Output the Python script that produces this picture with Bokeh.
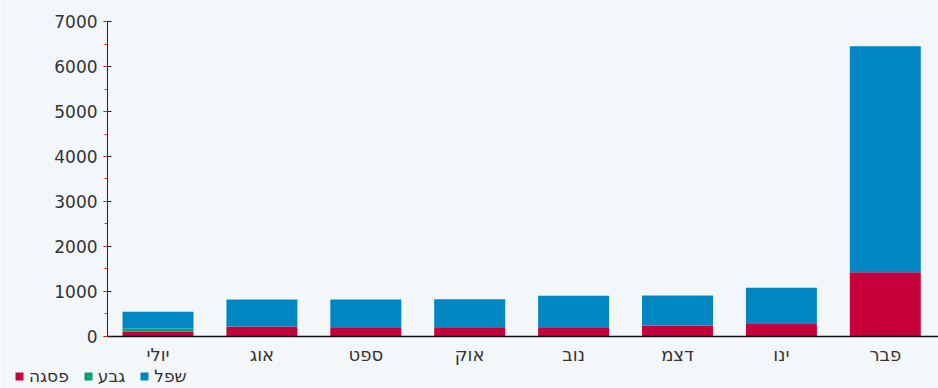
from bokeh.plotting import figure
from bokeh.models import Range1d, SingleIntervalTicker, FixedTicker, Legend, LegendItem, ColumnDataSource
from bokeh.embed import file_html
from bokeh.resources import INLINE

months = ["יולי", "אוג", "ספט", "אוק", "נוב", "דצמ", "ינו", "פבר"]
peak = [110, 220, 190, 190, 190, 245, 295, 1430]     # פסגה
shoulder = [70, 0, 0, 0, 0, 0, 0, 0]                  # גבע
offpeak = [370, 600, 630, 640, 715, 665, 790, 5020]  # שפל
series_names = ["פסגה", "גבע", "שפל"]
series_keys = ["peak", "shoulder", "offpeak"]
colors = ["#c5003a", "#00a26e", "#0087c1"]
y_max = 7000

idx = list(range(len(months)))
src = ColumnDataSource(dict(x=idx, peak=peak, shoulder=shoulder, offpeak=offpeak))

bg = "#f3f7fa"
p = figure(width=938, height=388, output_backend="svg", toolbar_location=None,
           x_range=Range1d(-1.516, 7.512), y_range=Range1d(-1156, 7467),
           min_border=0,
           background_fill_color=bg, border_fill_color=bg, outline_line_color=None)

renderers = p.vbar_stack(series_keys, x="x", width=0.683, source=src,
                         color=colors, line_color=None)

p.xgrid.visible = False
p.ygrid.visible = False

font = "DejaVu Sans"
# y axis
p.yaxis.fixed_location = -0.486
p.yaxis.bounds = (0, y_max)
p.yaxis.ticker = SingleIntervalTicker(interval=1000, num_minor_ticks=2)
p.yaxis.axis_line_color = "#222222"
p.yaxis.major_tick_line_color = "#222222"
p.yaxis.major_tick_in = 4
p.yaxis.major_tick_out = 4
p.yaxis.minor_tick_line_color = "#ff2020"
p.yaxis.minor_tick_in = 0
p.yaxis.minor_tick_out = 3
p.yaxis.major_label_text_font = font
p.yaxis.major_label_text_font_size = "17px"
p.yaxis.major_label_text_color = "#333333"
p.yaxis.major_label_standoff = 6

# x axis
p.xaxis.fixed_location = 0
p.xaxis.bounds = (-0.486, 7.512)
p.xaxis.ticker = FixedTicker(ticks=idx)
p.xaxis.major_label_overrides = {i: m for i, m in zip(idx, months)}
p.xaxis.axis_line_color = "#111111"
p.xaxis.axis_line_width = 1.5
p.xaxis.major_tick_line_color = None
p.xaxis.minor_tick_line_color = None
p.xaxis.major_label_text_font = font
p.xaxis.major_label_text_font_size = "18px"
p.xaxis.major_label_text_color = "#333333"
p.xaxis.major_label_standoff = 2

items = [LegendItem(label=n, renderers=[r]) for n, r in zip(series_names, renderers)]
legend = Legend(items=items, orientation="horizontal", location=(14, 2),
                glyph_width=10, glyph_height=10, label_standoff=5, spacing=14,
                padding=0, margin=0, border_line_color=None, background_fill_alpha=0,
                label_text_font=font, label_text_font_size="17px", label_text_color="#333333",
                label_height=16)
p.add_layout(legend, "center")

open("out.html", "w").write(file_html(p, INLINE))
